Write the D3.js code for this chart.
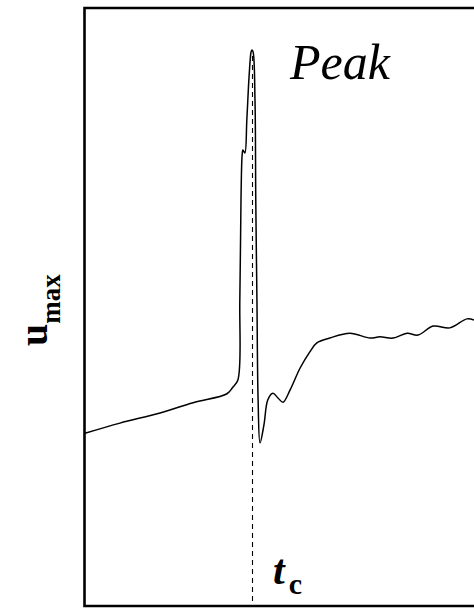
<!DOCTYPE html>
<html>
<head>
<meta charset="utf-8">
<script src="https://cdn.jsdelivr.net/npm/d3@7"></script>
<style>
  body { margin: 0; background: #fff; }
  svg { display: block; }
</style>
</head>
<body>
<script>
const W = 474, H = 608;

// time axis (arbitrary units) and u_max values
const tVals = [0, 9.0, 19.3, 27.8, 36.5, 38.0, 39.3, 39.8, 40.1, 40.4, 40.6, 41.1, 41.6, 42.2, 42.7, 42.9,
  43.2, 43.7, 43.9, 44.2, 44.5, 45.0, 46.0, 47.0, 48.3, 49.6, 50.9, 52.7, 55.3, 57.8, 59.6, 62.9,
  68.1, 73.3, 75.8, 79.2, 82.8, 85.6, 89.5, 93.8, 98.2, 100];
const uVals = [29.0, 30.7, 32.4, 34.1, 35.6, 36.7, 37.9, 51.3, 67.9, 75.5, 76.3, 75.8, 81.3, 88.8, 92.7, 93.0,
  92.7, 84.6, 67.9, 51.3, 34.6, 27.4, 30.4, 34.6, 35.7, 34.9, 34.2, 36.2, 39.9, 42.6, 44.1, 44.9,
  45.7, 44.9, 45.1, 44.9, 45.7, 45.4, 46.9, 46.6, 48.1, 47.9];
const tc = 42.9;
const peakU = 93.0;

const data = tVals.map((t, i) => ({ t: t, u: uVals[i] }));

const svg = d3.select("body")
    .append("svg")
    .attr("width", W)
    .attr("height", H);

const x = d3.scaleLinear().domain([0, 100]).range([85, 474]);
const y = d3.scaleLinear().domain([0, 100]).range([607, 8]);

// frame (right side runs off the picture)
svg.append("path")
    .attr("d", `M${W + 5},8 H84.5 V606 H${W + 5}`)
    .attr("fill", "none")
    .attr("stroke", "#000")
    .attr("stroke-width", 2.6);

// dashed line at t_c
const xc = Math.round(x(tc)) + 0.5;
svg.append("line")
    .attr("x1", xc).attr("x2", xc)
    .attr("y1", y(peakU) + 6).attr("y2", 606)
    .attr("stroke", "#000")
    .attr("stroke-width", 1.1)
    .attr("stroke-dasharray", "5,4");

const line = d3.line()
    .x(d => x(d.t))
    .y(d => y(d.u))
    .curve(d3.curveCatmullRom.alpha(0.5));

svg.append("path")
    .datum(data)
    .attr("d", line)
    .attr("fill", "none")
    .attr("stroke", "#000")
    .attr("stroke-width", 1.5);

// labels
const serif = "'Liberation Serif', 'Times New Roman', serif";

svg.append("text")
    .attr("x", 290)
    .attr("y", 79)
    .attr("font-family", serif)
    .attr("font-style", "italic")
    .attr("font-size", 50)
    .text("Peak");

const tl = svg.append("text")
    .attr("x", 273)
    .attr("y", 584)
    .attr("font-family", serif)
    .attr("font-weight", "bold")
    .attr("font-size", 42);
tl.append("tspan").attr("font-style", "italic").text("t");
tl.append("tspan").attr("font-size", 30).attr("dx", 4).attr("dy", 10).text("c");

const ul = svg.append("text")
    .attr("transform", "translate(47,346) rotate(-90)")
    .attr("font-family", serif)
    .attr("font-weight", "bold")
    .attr("font-size", 40);
ul.append("tspan").text("u");
ul.append("tspan").attr("font-size", 27).attr("dy", 13).text("max");
</script>
</body>
</html>
